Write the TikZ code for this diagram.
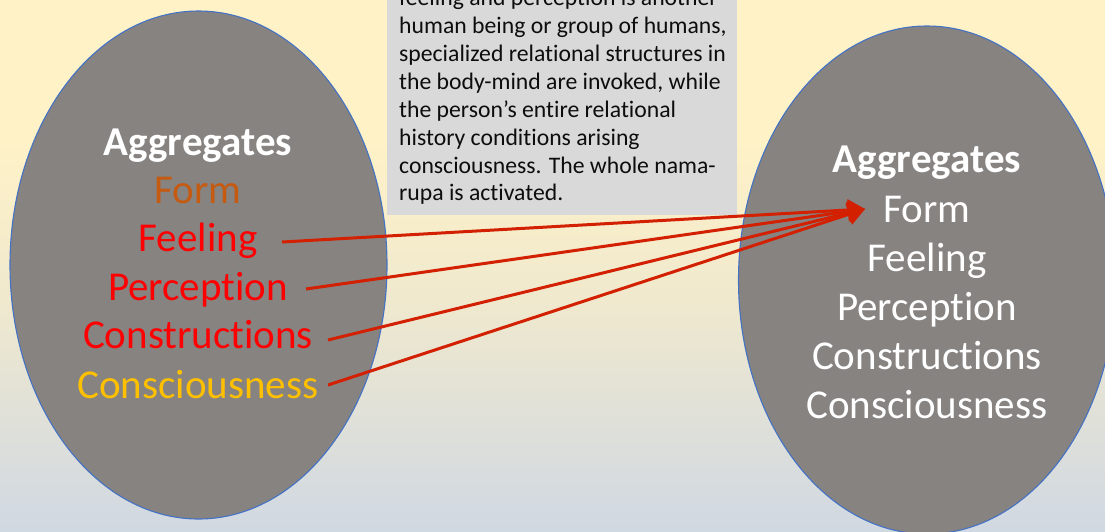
\documentclass[tikz,border=0pt]{standalone}
\usepackage{fontspec}
\setmainfont{Carlito}[Ligatures=NoCommon]
\usetikzlibrary{shapes.geometric,arrows.meta,calc}
\definecolor{bgtop}{RGB}{255,242,199}
\definecolor{bgmid}{RGB}{240,233,206}
\definecolor{bgbot}{RGB}{208,216,226}
\definecolor{ellfill}{RGB}{135,131,129}
\definecolor{ellline}{RGB}{68,114,196}
\definecolor{boxfill}{RGB}{217,217,217}
\definecolor{arrred}{RGB}{210,32,0}
\definecolor{formbrown}{RGB}{197,90,17}
\definecolor{goldtxt}{RGB}{255,192,0}
\pgfdeclareverticalshading{bgshade}{100bp}{color(0bp)=(bgbot); color(25bp)=(bgbot); color(47bp)=(bgmid); color(62bp)=(bgtop); color(75bp)=(bgtop); color(100bp)=(bgtop)}
\tikzset{
  agg/.style={ellipse, fill=ellfill, draw=ellline, line width=1.1pt, minimum width=377pt, minimum height=508pt, inner sep=0pt},
  word/.style={font=\fontsize{41}{49}\selectfont, anchor=base, inner sep=0pt},
  head/.style={word, font=\fontsize{41}{49}\selectfont\bfseries, text=white},
  link/.style={draw=arrred, line width=3pt, -{Triangle[length=17pt,width=21pt]}},
}
\begin{document}
\begin{tikzpicture}[x=1pt,y=-1pt]
\useasboundingbox (0,0) rectangle (1105,531);
\shade[shading=bgshade] (0,0) rectangle (1105,531);
\begin{scope}
\clip (0,0) rectangle (1105,531);
% left ellipse
\node[agg] (L) at (198.5,265) {};
% right ellipse
\node[agg] (R) at (927,280) {};
% text box
\fill[boxfill] (387,-5) rectangle (737,215);
\node[anchor=north west, inner sep=0pt, align=left, text=black!95, font=\fontsize{23.7}{27.9}\selectfont] (T) at (399,-11)
{feeling and perception is another\\
human being or group of humans,\\
specialized relational structures in\\
the body-mind are invoked, while\\
the person’s entire relational\\
history conditions arising\\
consciousness. The whole nama-\\
rupa is activated.};
\end{scope}
% left words
\node[head] (lagg) at (198,155) {Aggregates};
\node[word, text=formbrown] (lform) at (198,203) {Form};
\node[word, text=red] (lfeel) at (198,251) {Feeling};
\node[word, text=red] (lperc) at (198,300) {Perception};
\node[word, text=red] (lcons) at (198,348) {Constructions};
\node[word, text=goldtxt] (lconsc) at (198,398) {Consciousness};
% right words
\node[head] (ragg) at (927,172) {Aggregates};
\node[word, text=white] (rform) at (927,222) {Form};
\node[word, text=white] (rfeel) at (927,271) {Feeling};
\node[word, text=white] (rperc) at (927,320) {Perception};
\node[word, text=white] (rcons) at (927,369) {Constructions};
\node[word, text=white] (rconsc) at (927,418) {Consciousness};
% arrows
\coordinate (tip) at (865,209);
\coordinate (s1) at (282,242);
\coordinate (s2) at (306,289);
\coordinate (s3) at (328,340);
\coordinate (s4) at (328,385);
\draw[link] (s1) -- (tip);
\draw[link] (s2) -- (tip);
\draw[link] (s3) -- (tip);
\draw[link] (s4) -- (tip);
\end{tikzpicture}
\end{document}
